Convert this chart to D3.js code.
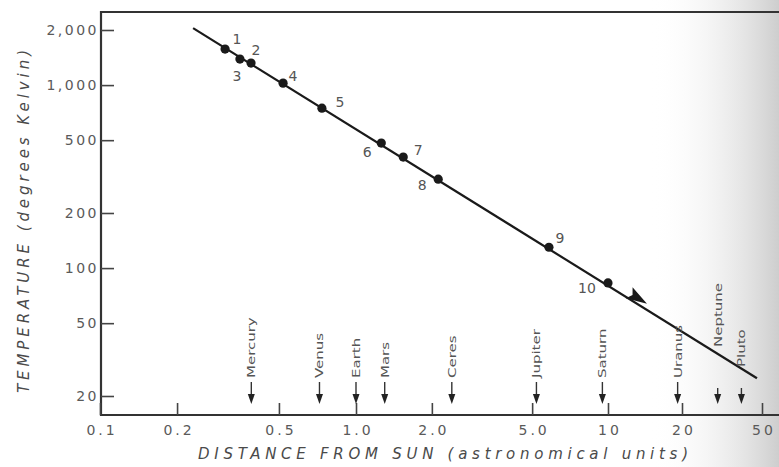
<!DOCTYPE html>
<html>
<head>
<meta charset="utf-8">
<script src="https://cdn.jsdelivr.net/npm/d3@7"></script>
<style>
  html, body { margin: 0; padding: 0; background: #fff; }
  svg { display: block; }
</style>
</head>
<body>
<svg id="chart" width="779" height="467"></svg>
<script>
// ---- data ----
const pointIds   = ["1","2","3","4","5","6","7","8","9","10"];
const pointDist  = [0.308, 0.389, 0.352, 0.519, 0.736, 1.26, 1.54, 2.12, 5.83, 10.0];
const pointTemp  = [1573, 1319, 1387, 1025, 748, 482, 404, 306, 130, 83];
const lineDist   = [0.231, 47.2];
const lineTemp   = [2048, 25];
const arrowDist  = 13.2;
const arrowTemp  = 68.6;
const planets    = ["Mercury","Venus","Earth","Mars","Ceres","Jupiter","Saturn","Uranus","Neptune","Pluto"];
const planetDist = [0.39, 0.72, 1.0, 1.3, 2.4, 5.2, 9.5, 19.2, 30.1, 39.5];
const xTicks     = [0.1, 0.2, 0.5, 1, 2, 5, 10, 20, 50];
const xTickLabels= ["0.1","0.2","0.5","1.0","2.0","5.0","10","20","50"];
const yTicks     = [2000, 1000, 500, 200, 100, 50, 20];
const yTickLabels= ["2,000","1,000","500","200","100","50","20"];

(function () {
// ---- layout ----
const svg = d3.select("#chart");
const fLeft = 101, fRight = 779, fTop = 12, fBottom = 415;
const ink = "#1a1a1a", grayText = "#5a5a5a";

// hand-drawn axis is slightly compressed at the right end -> piecewise log scale
const x = d3.scaleLog().domain([0.1, 1, 10, 20, 50]).range([100, 356, 608, 682, 762]);
const y = d3.scaleLog().domain([20, 2000]).range([396, 30]);

// scanned paper shading on the right
const defs = svg.append("defs");
const g1 = defs.append("linearGradient").attr("id", "shade").attr("x1", "0").attr("x2", "1").attr("y1","0").attr("y2","0");
g1.append("stop").attr("offset", "0").attr("stop-color", "#fff").attr("stop-opacity", 0);
g1.append("stop").attr("offset", "1").attr("stop-color", "#c8c8c8").attr("stop-opacity", 0.9);
svg.append("rect").attr("x", 650).attr("y", 0).attr("width", 129).attr("height", 467).attr("fill", "url(#shade)");

// frame
svg.append("line").attr("x1", fLeft).attr("x2", fRight).attr("y1", fTop).attr("y2", fTop)
  .attr("stroke", "#333").attr("stroke-width", 2.2);
svg.append("line").attr("x1", fLeft).attr("x2", fLeft).attr("y1", fTop - 1).attr("y2", fBottom + 1)
  .attr("stroke", "#333").attr("stroke-width", 2.2);
svg.append("line").attr("x1", fLeft - 1).attr("x2", fRight).attr("y1", fBottom).attr("y2", fBottom)
  .attr("stroke", "#333").attr("stroke-width", 2.2);

// x axis (ticks pointing inward)
const xAxis = svg.append("g").attr("transform", `translate(0,${fBottom})`)
  .call(d3.axisBottom(x).tickValues(xTicks).tickSizeInner(-12).tickSizeOuter(0)
        .tickPadding(10).tickFormat((d, i) => xTickLabels[i]));
xAxis.select(".domain").remove();
xAxis.selectAll(".tick line").attr("stroke", "#444").attr("stroke-width", 1.6);
xAxis.selectAll(".tick text")
  .attr("fill", grayText).attr("font-family", "DejaVu Sans, sans-serif")
  .attr("font-size", 14).attr("letter-spacing", 3).attr("dx", 1.5).attr("y", 10);

// y axis (ticks pointing inward)
const yAxis = svg.append("g").attr("transform", `translate(${fLeft},0)`)
  .call(d3.axisLeft(y).tickValues(yTicks).tickSizeInner(-13).tickSizeOuter(0)
        .tickPadding(4).tickFormat((d, i) => yTickLabels[i]));
yAxis.select(".domain").remove();
yAxis.selectAll(".tick line").attr("stroke", "#444").attr("stroke-width", 1.6);
yAxis.selectAll(".tick text")
  .attr("fill", grayText).attr("font-family", "DejaVu Sans, sans-serif")
  .attr("font-size", 14).attr("letter-spacing", 2.5).attr("x", -2);

// axis titles
svg.append("text").attr("x", 198).attr("y", 459).attr("text-anchor", "start")
  .attr("font-family", "DejaVu Sans, sans-serif").attr("font-style", "italic")
  .attr("font-size", 15).attr("fill", "#4a4a4a")
  .attr("textLength", 490).attr("lengthAdjust", "spacing")
  .text("DISTANCE FROM SUN  (astronomical units)");
svg.append("text").attr("transform", "translate(29,393) rotate(-90)").attr("text-anchor", "start")
  .attr("font-family", "DejaVu Sans, sans-serif").attr("font-style", "italic")
  .attr("font-size", 15).attr("fill", "#4a4a4a")
  .attr("textLength", 343).attr("lengthAdjust", "spacing")
  .text("TEMPERATURE  (degrees Kelvin)");

// fitted line
const lineData = lineDist.map((d, i) => [d, lineTemp[i]]);
svg.append("path").datum(lineData)
  .attr("d", d3.line().x(d => x(d[0])).y(d => y(d[1])))
  .attr("stroke", ink).attr("stroke-width", 2.2).attr("fill", "none");

// direction arrow on the line
const ang = Math.atan2(y(lineTemp[1]) - y(lineTemp[0]), x(lineDist[1]) - x(lineDist[0])) * 180 / Math.PI;
svg.append("path").attr("d", "M11,0 L-10,-6.5 L-6,0 L-10,6.5 Z")
  .attr("transform", `translate(${x(arrowDist)},${y(arrowTemp)}) rotate(${ang})`)
  .attr("fill", ink);

// points
const pts = pointIds.map((id, i) => ({ id, d: pointDist[i], t: pointTemp[i] }));
svg.selectAll("circle.pt").data(pts).enter().append("circle")
  .attr("class", "pt").attr("cx", p => x(p.d)).attr("cy", p => y(p.t)).attr("r", 4.6)
  .attr("fill", ink);

// point labels (offsets are layout only)
const labelOffset = [[12,-10],[5,-13],[-3,17],[10,-7],[18,-6],[-14,9],[15,-7],[-16,6],[11,-9],[-21,5]];
svg.selectAll("text.pl").data(pts).enter().append("text")
  .attr("class", "pl")
  .attr("x", (p, i) => x(p.d) + labelOffset[i][0])
  .attr("y", (p, i) => y(p.t) + labelOffset[i][1])
  .attr("text-anchor", "middle").attr("dominant-baseline", "central")
  .attr("font-family", "DejaVu Sans, sans-serif").attr("font-size", 14)
  .attr("fill", "#555").text(p => p.id);

// planet markers
const labelBase = { Neptune: 347, Pluto: 367 };
const arrowTop  = { Neptune: 388, Pluto: 388 };
const pg = svg.selectAll("g.planet").data(planets).enter().append("g")
  .attr("class", "planet")
  .attr("transform", (p, i) => `translate(${x(planetDist[i])},0)`);
pg.append("line").attr("x1", 0).attr("x2", 0)
  .attr("y1", p => arrowTop[p] || 382).attr("y2", 398)
  .attr("stroke", "#333").attr("stroke-width", 1.4);
pg.append("path").attr("d", "M-3.5,394 L3.5,394 L0,404 Z").attr("fill", "#222");
pg.append("text")
  .attr("transform", p => `translate(4,${labelBase[p] || 378}) rotate(-90) scale(1.5,1)`)
  .attr("text-anchor", "start")
  .attr("font-family", "DejaVu Sans, sans-serif").attr("font-size", 10)
  .attr("fill", "#555").text(p => p);
})();
</script>
</body>
</html>
